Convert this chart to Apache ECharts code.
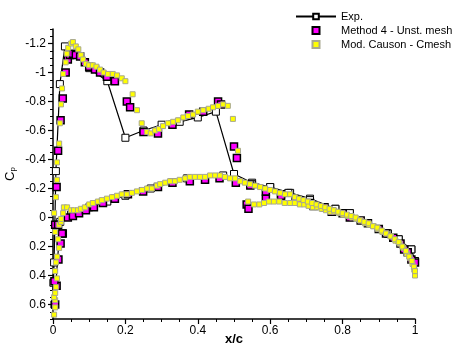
<!DOCTYPE html>
<html>
<head>
<meta charset="utf-8">
<script src="https://cdn.jsdelivr.net/npm/echarts@6/dist/echarts.min.js"></script>
<style>
  html, body { margin: 0; padding: 0; background: #fff; }
  #cp { width: 456px; height: 346px; }
</style>
</head>
<body>
<div id="cp"></div>
<script>
// experiment, one polyline: upper surface TE -> LE, then lower surface LE -> TE
var expX = [1.0, 0.99, 0.955, 0.925, 0.82, 0.78, 0.71, 0.655, 0.60, 0.55, 0.50, 0.45, 0.40, 0.35, 0.30, 0.25, 0.20, 0.15, 0.10, 0.033, 0.019, 0.008, 0.003, 0.001, 0.004,
            0.02, 0.05, 0.10, 0.15, 0.20, 0.27, 0.37, 0.47, 0.55, 0.60, 0.65, 0.71, 0.78, 0.82, 0.925, 0.955, 0.99, 1.0];
var expY = [0.30, 0.22, 0.15, 0.11, -0.03, -0.06, -0.13, -0.17, -0.21, -0.24, -0.30, -0.73, -0.69, -0.66, -0.64, -0.60, -0.55, -0.94, -1.03, -1.18, -0.92, -0.32, 0.31, 0.45, 0.60,
            0.03, -0.02, -0.07, -0.11, -0.15, -0.20, -0.27, -0.29, -0.23, -0.21, -0.17, -0.12, -0.06, -0.03, 0.11, 0.15, 0.22, 0.30];

// Method 4 - Unst. mesh
var m4Upper = [[0.006, 0.60], [0.01, 0.47], [0.004, 0.44], [0.015, 0.29], [0.021, 0.18], [0.027, 0.11], [0.006, 0.05],
  [0.01, -0.21], [0.014, -0.46], [0.021, -0.67], [0.027, -0.82], [0.035, -1.0], [0.041, -1.09], [0.047, -1.12], [0.055, -1.13],
  [0.063, -1.12], [0.075, -1.11], [0.088, -1.07], [0.10, -1.04], [0.116, -1.02], [0.13, -1.00], [0.149, -0.97], [0.171, -0.94],
  [0.204, -0.80], [0.213, -0.76], [0.25, -0.59], [0.29, -0.58], [0.33, -0.64], [0.376, -0.71], [0.415, -0.73], [0.456, -0.80],
  [0.464, -0.78], [0.50, -0.49], [0.508, -0.41], [0.535, -0.09], [0.54, -0.06], [0.588, -0.13], [0.63, -0.16], [0.67, -0.11],
  [0.71, -0.10], [0.75, -0.07], [0.80, -0.03], [0.85, 0.02], [0.90, 0.08], [0.94, 0.14], [0.97, 0.22], [0.99, 0.29]];
var m4Lower = [[0.014, 0.05], [0.025, 0.11], [0.041, 0.0], [0.055, -0.01], [0.072, -0.03], [0.091, -0.05], [0.113, -0.07],
  [0.138, -0.10], [0.171, -0.13], [0.207, -0.16], [0.249, -0.18], [0.29, -0.21], [0.33, -0.24], [0.378, -0.25], [0.42, -0.26],
  [0.46, -0.27], [0.505, -0.24], [0.545, -0.22], [0.588, -0.18], [0.63, -0.15], [0.674, -0.12], [0.72, -0.08], [0.77, -0.04],
  [0.82, 0.0], [0.87, 0.04], [0.92, 0.11], [0.96, 0.18], [0.98, 0.24], [1.0, 0.31]];

// Mod. Causon - Cmesh
var causonUpper = [[0.003, -0.03], [0.008, -0.14], [0.011, -0.26], [0.011, -0.38], [0.017, -0.51], [0.019, -0.65], [0.022, -0.78],
  [0.025, -0.89], [0.028, -0.99], [0.035, -1.07], [0.038, -1.13], [0.042, -1.17], [0.05, -1.20], [0.055, -1.21], [0.063, -1.18],
  [0.07, -1.16], [0.077, -1.12], [0.083, -1.09], [0.091, -1.06], [0.10, -1.05], [0.11, -1.05], [0.12, -1.04], [0.13, -1.02],
  [0.14, -1.00], [0.152, -0.99], [0.165, -0.99], [0.177, -0.98], [0.19, -0.96], [0.20, -0.94], [0.22, -0.85], [0.232, -0.74],
  [0.245, -0.65], [0.26, -0.59], [0.27, -0.58], [0.282, -0.60], [0.293, -0.61], [0.304, -0.63], [0.318, -0.65], [0.332, -0.66],
  [0.345, -0.67], [0.36, -0.69], [0.373, -0.70], [0.387, -0.71], [0.40, -0.73], [0.415, -0.74], [0.43, -0.75], [0.442, -0.76],
  [0.456, -0.77], [0.47, -0.78], [0.483, -0.77], [0.497, -0.68], [0.511, -0.46], [0.539, -0.11], [0.555, -0.09], [0.57, -0.09],
  [0.583, -0.10], [0.597, -0.11], [0.61, -0.11], [0.625, -0.11], [0.64, -0.10], [0.655, -0.10], [0.668, -0.10], [0.682, -0.09],
  [0.694, -0.09], [0.706, -0.08], [0.718, -0.07], [0.730, -0.07], [0.742, -0.06], [0.754, -0.05], [0.766, -0.04], [0.778, -0.04],
  [0.790, -0.03], [0.802, -0.02], [0.814, -0.01], [0.826, 0.00], [0.838, 0.01], [0.850, 0.02], [0.862, 0.04], [0.874, 0.05],
  [0.886, 0.06], [0.898, 0.08], [0.910, 0.10], [0.922, 0.11], [0.934, 0.13], [0.946, 0.16], [0.958, 0.18], [0.968, 0.21],
  [0.978, 0.25], [0.986, 0.28], [0.993, 0.32], [0.998, 0.36], [1.0, 0.40]];
var causonLower = [[0.003, 0.67], [0.006, 0.62], [0.006, 0.57], [0.003, 0.55], [0.006, 0.52], [0.008, 0.48], [0.011, 0.42],
  [0.006, 0.37], [0.008, 0.31], [0.011, 0.27], [0.017, 0.21], [0.014, 0.15], [0.006, 0.10], [0.017, 0.05], [0.022, 0.03],
  [0.022, 0.01], [0.028, -0.03], [0.03, -0.07], [0.039, -0.07], [0.05, -0.05], [0.058, -0.05], [0.069, -0.05], [0.077, -0.06],
  [0.088, -0.07], [0.10, -0.09], [0.11, -0.10], [0.124, -0.11], [0.135, -0.12], [0.149, -0.13], [0.163, -0.14], [0.177, -0.15],
  [0.19, -0.16], [0.204, -0.16], [0.218, -0.17], [0.232, -0.18], [0.246, -0.19], [0.26, -0.20], [0.273, -0.20], [0.287, -0.22],
  [0.296, -0.23], [0.31, -0.24], [0.323, -0.25], [0.337, -0.25], [0.35, -0.26], [0.365, -0.27], [0.378, -0.28], [0.392, -0.28],
  [0.406, -0.28], [0.42, -0.28], [0.434, -0.29], [0.448, -0.29], [0.461, -0.29], [0.475, -0.28], [0.489, -0.27], [0.503, -0.27],
  [0.517, -0.25], [0.53, -0.24], [0.544, -0.23], [0.558, -0.22], [0.572, -0.21], [0.586, -0.20], [0.60, -0.19], [0.613, -0.18],
  [0.627, -0.17], [0.641, -0.16], [0.655, -0.16], [0.668, -0.14], [0.68, -0.13], [0.692, -0.12], [0.704, -0.11], [0.716, -0.10],
  [0.728, -0.09], [0.740, -0.08], [0.752, -0.07], [0.764, -0.06], [0.776, -0.05], [0.788, -0.04], [0.80, -0.03], [0.812, -0.02],
  [0.824, -0.01], [0.836, 0.00], [0.848, 0.02], [0.86, 0.03], [0.872, 0.04], [0.884, 0.06], [0.896, 0.07], [0.908, 0.09],
  [0.92, 0.11], [0.932, 0.13], [0.944, 0.15], [0.955, 0.17], [0.965, 0.20], [0.975, 0.23], [0.984, 0.27], [0.991, 0.30],
  [0.997, 0.34], [1.0, 0.37]];

var yTicks = [-1.2, -1, -0.8, -0.6, -0.4, -0.2, 0, 0.2, 0.4, 0.6];

var font = 'Liberation Sans, Arial, sans-serif';
var fmt = function (v) { return String(+(+v).toFixed(1)); };
var squareIcon = 'path://M0,0L10,0L10,10L0,10Z';

var expData = expX.map(function (x, i) { return [x, expY[i]]; });

var myChart = echarts.init(document.getElementById('cp'));
var option = {
    animation: false,
    backgroundColor: '#fff',
    grid: { left: 53, right: 41, top: 29, bottom: 27, outerBoundsMode: 'none' },
    legend: {
        orient: 'vertical',
        left: 290,
        top: 5,
        itemWidth: 40,
        itemHeight: 7,
        itemGap: 1,
        symbolKeepAspect: true,
        textStyle: { fontFamily: font, fontSize: 11, color: '#000', lineHeight: 13 },
        data: [
            { name: 'Exp.' },
            { name: 'Method 4 - Unst. mesh', icon: squareIcon },
            { name: 'Mod. Causon - Cmesh', icon: squareIcon }
        ]
    },
    xAxis: {
        type: 'value',
        min: 0, max: 1, interval: 0.2,
        name: 'x/c',
        nameLocation: 'middle',
        nameGap: 14,
        nameMoveOverlap: false,
        nameTextStyle: { fontFamily: font, fontSize: 13, fontWeight: 'bold', color: '#000' },
        axisLine: { onZero: false, lineStyle: { color: '#000', width: 1.5 } },
        axisTick: { length: 5, lineStyle: { color: '#000', width: 1.2 } },
        minorTick: { show: true, splitNumber: 4, length: 3, lineStyle: { color: '#000', width: 1 } },
        axisLabel: { formatter: fmt, fontFamily: font, fontSize: 12, color: '#000', margin: 6 },
        splitLine: { show: false }
    },
    yAxis: [{
        type: 'value',
        min: -1.3, max: 0.7, interval: 0.05,
        inverse: true,
        name: '{c|C}{p|p}',
        nameLocation: 'middle',
        nameGap: 36,
        nameMoveOverlap: false,
        nameRotate: 90,
        nameTextStyle: {
            rich: {
                c: { fontFamily: font, fontSize: 13, color: '#000' },
                p: { fontFamily: font, fontSize: 8, color: '#000', padding: [6, 0, 0, 0] }
            }
        },
        axisLine: { onZero: false, lineStyle: { color: '#000', width: 1.5 } },
        axisTick: { length: 5, customValues: yTicks, lineStyle: { color: '#000', width: 1.2 } },
        axisLabel: { customValues: yTicks, formatter: fmt, fontFamily: font, fontSize: 12, color: '#000', margin: 7 },
        splitLine: { show: false }
    }, {
        type: 'value',
        min: -1.3, max: 0.7, interval: 0.05,
        inverse: true,
        position: 'left',
        axisLine: { show: false, onZero: false },
        axisTick: { length: 3, lineStyle: { color: '#000', width: 1 } },
        axisLabel: { show: false },
        splitLine: { show: false }
    }],
    series: [{
        name: 'Exp.',
        type: 'line',
        data: expData,
        symbol: 'rect',
        symbolSize: 7,
        showAllSymbol: true,
        lineStyle: { color: '#000', width: 1.2 },
        itemStyle: { color: '#fff', borderColor: '#000', borderWidth: 1 },
        z: 2
    }, {
        name: 'Method 4 - Unst. mesh',
        type: 'scatter',
        data: m4Upper.concat(m4Lower),
        symbol: 'rect',
        symbolSize: 7,
        itemStyle: { color: '#ff00ff', borderColor: '#000', borderWidth: 1.5, opacity: 1 },
        z: 3
    }, {
        name: 'Mod. Causon - Cmesh',
        type: 'scatter',
        data: causonUpper.concat(causonLower),
        symbol: 'rect',
        symbolSize: 5,
        itemStyle: { color: '#ffff00', borderColor: '#a8a890', borderWidth: 1, opacity: 1 },
        z: 4
    }]
};
myChart.setOption(option);
</script>
</body>
</html>
